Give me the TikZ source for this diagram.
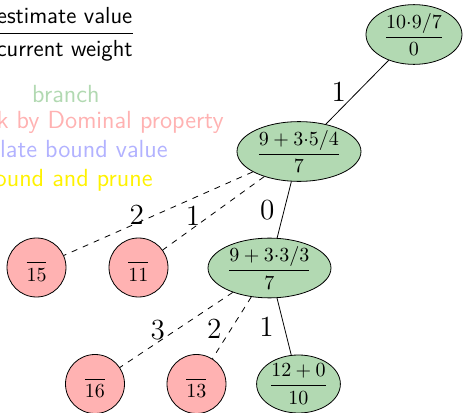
\documentclass[tikz,border=0pt]{standalone}
\usepackage{amsmath}
\usetikzlibrary{shapes.geometric}
\definecolor{okgreen}{rgb}{0.7,0.85,0.7}
\tikzset{
  gnode/.style={ellipse, draw=black, fill=okgreen, inner sep=0pt, minimum height=28.5pt},
  rnode/.style={circle, draw=black, fill=red!30, inner sep=0pt, minimum size=29.5pt},
  lbl/.style={font=\fontsize{14.6}{17}\selectfont, inner sep=0pt},
  keep/.style={draw=black},
  pruned/.style={draw=black, dashed},
  legend/.style={font=\sffamily\fontsize{12.4}{14}\selectfont, inner sep=0pt, anchor=base east}
}
\begin{document}
\begin{tikzpicture}[x=0.5pt,y=-0.5pt]
\useasboundingbox (0,0) rectangle (463,413);
\clip (0,0) rectangle (463,413);
% legend
\node[legend, anchor=east, font=\sffamily\fontsize{11.6}{14}\selectfont] (lfrac) at (135.5,34) {$\dfrac{\textsf{estimate value}}{\textsf{current weight}}$};
\node[legend, text=okgreen] (lbranch) at (100,102) {branch};
\node[legend, text=red!30] (lcheck) at (224,128) {check by Dominal property};
\node[legend, text=blue!30] (lcalc) at (168,157) {calculate bound value};
\node[legend, text=yellow] (lprune) at (153,186) {bound and prune};
% tree nodes
\node[gnode, minimum width=48pt] (n0) at (414,34.5) {$\dfrac{10{\cdot}9/7}{0}$};
\node[gnode, minimum width=62pt] (n1) at (299,151.5) {$\dfrac{9+3{\cdot}5/4}{7}$};
\node[gnode, minimum width=61.5pt, minimum height=29pt] (n2) at (269.5,268) {$\dfrac{9+3{\cdot}3/3}{7}$};
\node[gnode, minimum width=41.5pt, minimum height=29pt] (n3) at (298.5,384) {$\dfrac{12+0}{10}$};
\node[rnode] (c15) at (36.5,267.5) {$\dfrac{}{15}$};
\node[rnode] (c11) at (138.5,267.5) {$\dfrac{}{11}$};
\node[rnode] (c16) at (95,384) {$\dfrac{}{16}$};
\node[rnode] (c13) at (196.5,384) {$\dfrac{}{13}$};
% edges
\draw[keep] (n0) -- node[lbl, midway, xshift=-9.25pt] {1} (n1);
\draw[keep] (n1) -- node[lbl, midway, xshift=-8.5pt] {0} (n2);
\draw[pruned] (n1) -- node[lbl, midway, xshift=-10.75pt, yshift=-0.5pt] {2} (c15);
\draw[pruned] (n1) -- node[lbl, midway, xshift=-10.25pt, yshift=-1.25pt] {1} (c11);
\draw[pruned] (n2) -- node[lbl, midway, xshift=-9.25pt, yshift=-0.25pt] {3} (c16);
\draw[pruned] (n2) -- node[lbl, midway, xshift=-8.75pt, yshift=-0.25pt] {2} (c13);
\draw[keep] (n2) -- node[lbl, midway, xshift=-8.75pt] {1} (n3);
\end{tikzpicture}
\end{document}
